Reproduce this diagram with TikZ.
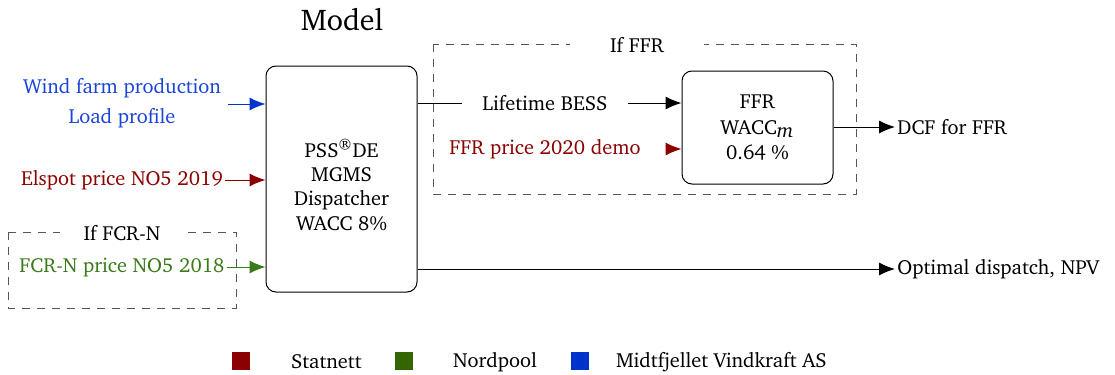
\documentclass[tikz,border=0pt]{standalone}
\usepackage[T1]{fontenc}
\usepackage{charter}
\usetikzlibrary{arrows.meta}
\definecolor{cblue}{HTML}{1A44D8}
\definecolor{cbluesq}{HTML}{0033CC}
\definecolor{cred}{HTML}{8B0000}
\definecolor{cgreen}{HTML}{3A7A1A}
\definecolor{cgreensq}{HTML}{336600}
\definecolor{cdash}{HTML}{555555}
\begin{document}
\begin{tikzpicture}[x=0.5pt,y=-0.5pt,
  font=\fontsize{10.2}{12.2}\selectfont,
  box/.style={draw, rounded corners=5pt, line width=0.5pt},
  grp/.style={draw=cdash, dash pattern=on 4pt off 3.5pt, line width=0.5pt},
  lbl/.style={inner sep=1pt},
  arr/.style={-{Latex[length=8pt,width=6.5pt]}, line width=0.5pt},
  leg/.style={minimum width=9pt, minimum height=9pt, inner sep=0pt},
  legt/.style={anchor=west}]
\useasboundingbox (0,0) rectangle (1115,375);
% dashed groups
\draw[grp] (8,232) rectangle (236,308);
\draw[grp] (433,44) rectangle (856,194);
\node[fill=white, inner xsep=12pt, inner ysep=1pt] (tfcr) at (122,233) {If FCR-N};
\node[fill=white, inner xsep=20pt, inner ysep=1pt] (tffr) at (637,45) {If FFR};
% title
\node (title) at (342,20) {\fontsize{15}{18}\selectfont Model};
% main box
\node[box, minimum width=75.5pt, minimum height=113pt] (main) at (341.5,179) {};
\node[align=center] (maintxt) at (341.5,185)
  {PSS\textsuperscript{\textregistered}DE\\ MGMS\\ Dispatcher\\ WACC 8\%};
% FFR box
\node[box, minimum width=75.5pt, minimum height=56.5pt, align=center] (ffr) at (757.5,127.5)
  {FFR\\[1pt] WACC$_{\textit{m}}$\\[0.5pt] 0.64 \%};
% inputs
\node[lbl, text=cblue, align=center] (wind) at (122,88) {Wind farm production};
\node[lbl, text=cblue] (load) at (122,118) {Load profile};
\node[lbl, text=cred] (elspot) at (122,180) {Elspot price NO5 2019};
\node[lbl, text=cgreen] (fcrn) at (122,267) {FCR-N price NO5 2018};
\coordinate (wstart) at (228,104);
\draw[arr, cbluesq] (wstart) -- (wstart -| main.west);
\draw[arr, cred] (elspot.east) -- (elspot.east -| main.west);
\draw[arr, cgreen] (fcrn.east) -- (fcrn.east -| main.west);
% FFR inputs
\node[lbl, inner xsep=10pt] (life) at (545,103) {Lifetime BESS};
\node[lbl, text=cred] (ffrp) at (545,149) {FFR price 2020 demo};
\draw[line width=0.5pt] (life.west -| main.east) -- (life.west);
\draw[arr] (life.east) -- (life.east -| ffr.west);
\draw[arr, cred] (667,149) -- (ffr.west |- 149,149);
% outputs
\node[lbl, anchor=west] (dcf) at (895,127) {DCF for FFR};
\node[lbl, anchor=west] (opt) at (895,269) {Optimal dispatch, NPV};
\draw[arr] (ffr.east |- dcf.west) -- (dcf.west);
\draw[arr] (main.east |- opt.west) -- (opt.west);
% legend
\node[leg, fill=cred] (sq1) at (241,361) {};
\node[leg, fill=cgreensq] (sq2) at (404,361) {};
\node[leg, fill=cbluesq] (sq3) at (579.5,361) {};
\node[legt] (l1) at (284,362) {Statnett};
\node[legt] (l2) at (446,362) {Nordpool};
\node[legt] (l3) at (609,362) {Midtfjellet Vindkraft AS};
\end{tikzpicture}
\end{document}
